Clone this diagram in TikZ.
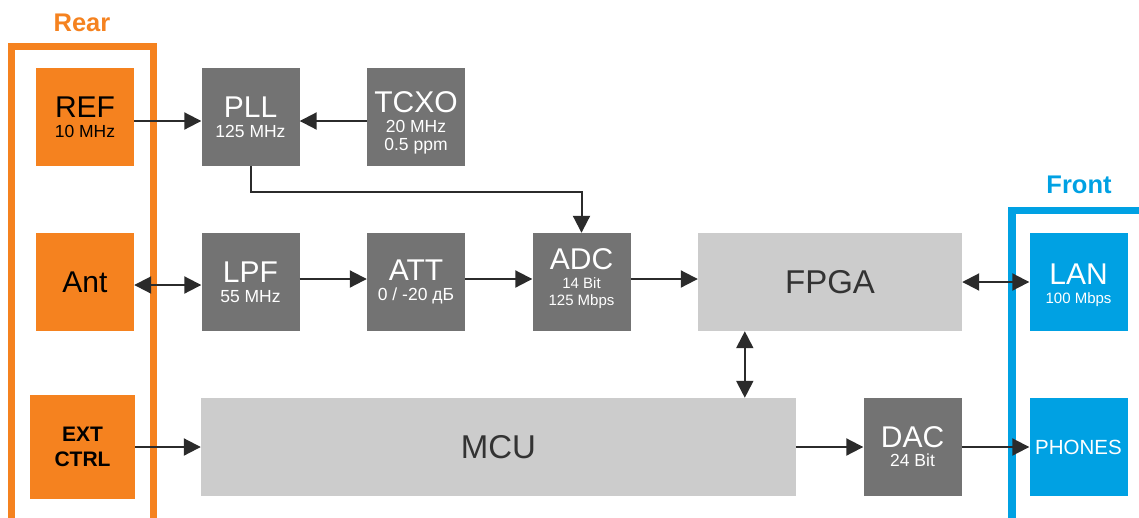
\documentclass[tikz,border=0pt]{standalone}
\usepackage{fontspec}
\setmainfont{Liberation Sans}
\usepackage{tikz}
\usepackage{xcolor}
\usetikzlibrary{arrows.meta,positioning,calc}

\definecolor{rearorange}{HTML}{F5821F}
\definecolor{frontblue}{HTML}{00A1E3}
\definecolor{darkbox}{HTML}{737373}
\definecolor{lightbox}{HTML}{CCCCCC}
\definecolor{wirecol}{HTML}{2B2B2B}

\newcommand{\mainfs}{\fontsize{30}{30}\selectfont}
\newcommand{\subfs}{\fontsize{17.5}{19}\selectfont}
\newcommand{\tinyfs}{\fontsize{15}{17.5}\selectfont}

\begin{document}
\begin{tikzpicture}[x=1pt,y=-1pt,
  blk/.style={minimum width=98pt,minimum height=98pt,inner sep=0pt,align=center,font=\fontsize{17.5}{20}\selectfont},
  darkblk/.style={blk,fill=darkbox,text=white},
  lightblk/.style={blk,fill=lightbox,text=black!80},
  rearblk/.style={blk,fill=rearorange,text=black},
  frontblk/.style={blk,fill=frontblue,text=white},
  wire/.style={draw=wirecol,line width=2pt,-{Triangle[length=17pt,width=17pt]}},
  biwire/.style={wire,{Triangle[length=17pt,width=17pt]}-{Triangle[length=17pt,width=17pt]}}]
\useasboundingbox (0,0) rectangle (1139,517);

% panels
\draw[rearorange,line width=7.5pt] (11.5,530) -- (11.5,46.5) -- (153.5,46.5) -- (153.5,530);
\draw[frontblue,line width=7.5pt] (1012,530) -- (1012,210.5) -- (1150,210.5);
\node[text=rearorange,font=\fontsize{25.5}{26}\selectfont\bfseries] (rear) at (82,23) {Rear};
\node[text=frontblue,font=\fontsize{25.5}{26}\selectfont\bfseries] (front) at (1079,185) {Front};

% blocks
\node[rearblk] (ref) at (85,117) {\mainfs REF\\\subfs 10 MHz};
\node[darkblk] (pll) at (250.5,117) {\mainfs PLL\\\subfs 125 MHz};
\node[darkblk,font=\fontsize{17.5}{17.5}\selectfont,text height=66pt,text depth=0pt] (tcxo) at (416,117) {\mainfs TCXO\\[2.5pt]\subfs 20 MHz\\\subfs 0.5 ppm};
\node[rearblk] (ant) at (85,282) {\mainfs Ant};
\node[darkblk] (lpf) at (250.5,282) {\mainfs LPF\\\subfs 55 MHz};
\node[darkblk] (att) at (416,282) {\mainfs ATT\\\subfs 0 / -20 дБ};
\node[darkblk,font=\fontsize{15}{17}\selectfont,text depth=9pt] (adc) at (581.5,282) {\mainfs ADC\\[2pt]\tinyfs 14 Bit\\\tinyfs 125 Mbps};
\node[lightblk,minimum width=264pt,font=\fontsize{33}{33}\selectfont] (fpga) at (830,282) {FPGA};
\node[frontblk,font=\fontsize{15}{19}\selectfont,text height=43.5pt,text depth=0pt] (lan) at (1078.5,282) {\mainfs LAN\\\tinyfs 100 Mbps};
\node[rearblk,minimum width=105pt,minimum height=104pt,font=\fontsize{21}{25.5}\selectfont\bfseries] (ext) at (82.5,447) {EXT\\CTRL};
\node[lightblk,minimum width=595pt,font=\fontsize{33}{33}\selectfont] (mcu) at (498.5,447) {MCU};
\node[darkblk,font=\fontsize{17.5}{19}\selectfont] (dac) at (912.5,447) {\mainfs DAC\\\subfs 24 Bit};
\node[frontblk,font=\fontsize{20.5}{22}\selectfont] (phones) at (1078.5,447) {PHONES};

% connections
\draw[wire] ([yshift=-4pt]ref.east) -- ([yshift=-4pt]pll.west);
\draw[wire] ([yshift=-4pt]tcxo.west) -- ([yshift=-4pt]pll.east);
\draw[wire] (pll.south) -- ++(0,26) -| (adc.north);
\draw[biwire] ([yshift=-3pt]ant.east) -- ([yshift=-3pt]lpf.west);
\draw[wire] ([yshift=3pt]lpf.east) -- ([yshift=3pt]att.west);
\draw[wire] ([yshift=3pt]att.east) -- ([yshift=3pt]adc.west);
\draw[wire] ([yshift=3pt]adc.east) -- ([yshift=3pt]fpga.west);
\draw[biwire] (fpga.east) -- (lan.west);
\draw[biwire] ([xshift=47pt]fpga.south west) -- ([xshift=47pt]fpga.south west |- mcu.north);
\draw[wire] (ext.east) -- (mcu.west);
\draw[wire] (mcu.east) -- (dac.west);
\draw[wire] (dac.east) -- (phones.west);
\end{tikzpicture}
\end{document}
